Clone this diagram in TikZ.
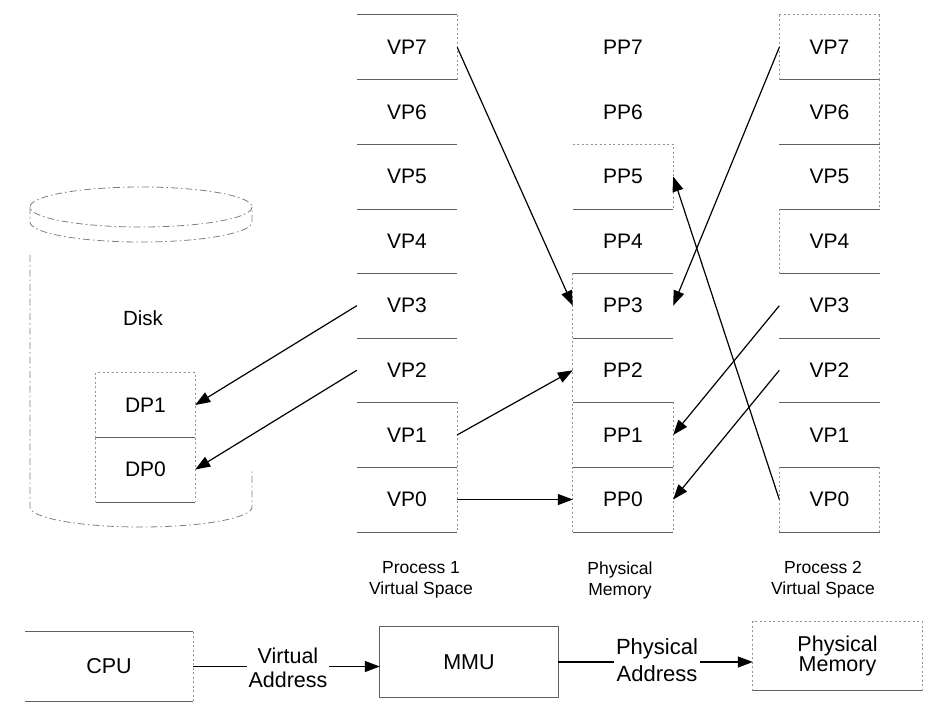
\documentclass[tikz,border=0pt]{standalone}
\usepackage{fontspec}
\setmainfont{Liberation Sans}
\usetikzlibrary{arrows.meta}
\begin{document}
\begin{tikzpicture}[x=1pt,y=-1pt,
  page/.style={minimum width=100pt,minimum height=64.6pt,inner sep=0pt,font=\fontsize{21}{24}\selectfont},
  sep/.style={draw=black!62,line width=0.8pt},
  edge/.style={draw=black!42,line width=0.8pt,dash pattern=on 2pt off 2.5pt},
  disk/.style={draw=black!50,line width=0.8pt,dash pattern=on 7pt off 3pt on 1.5pt off 3pt},
  link/.style={draw=black,line width=1.2pt,-{Triangle[length=15pt,width=11pt]}},
  captext/.style={align=center,font=\fontsize{17.5}{21}\selectfont},
  boxtext/.style={inner sep=0pt,align=center,font=\fontsize{21.5}{20}\selectfont},
  lbl/.style={fill=white,inner sep=2pt,align=center}]
\useasboundingbox (0,0) rectangle (941,726);

% ---------- Disk ----------
\draw[disk] (141,207) ellipse [x radius=111, y radius=20];
\draw[disk] (30,207) -- (30,222) arc[start angle=180,end angle=0,x radius=111,y radius=20] -- (252,207);
\draw[disk] (30,255) -- (30,507) arc[start angle=180,end angle=0,x radius=111,y radius=20] -- (252,470);
\node[font=\fontsize{20.5}{24}\selectfont] (disk) at (143,318) {Disk};
\node[page,minimum width=99pt] (dp1) at (145.5,405) {DP1};
\node[page,minimum width=99pt] (dp0) at (145.5,469.5) {DP0};
\draw[edge] (dp1.south west) |- (dp1.north east) -- (dp0.south east);
\draw[edge] (dp1.south west) -- (dp0.south west);
\draw[sep] (dp1.south west) -- (dp1.south east);
\draw[sep] (dp0.south west) -- (dp0.south east);

% ---------- columns ----------
\foreach \i in {0,...,7} {
  \node[page] (a\i) at (407,{15+(7.5-\i)*64.6}) {VP\i};
  \node[page] (m\i) at (623,{15+(7.5-\i)*64.6}) {PP\i};
  \node[page] (b\i) at (829.5,{15+(7.5-\i)*64.6}) {VP\i};
}
% Process 1
\draw[sep] (a7.north west) -- (a7.north east);
\foreach \i in {0,...,7} { \draw[sep] (a\i.south west) -- (a\i.south east); }
\draw[edge] (a7.north east) -- (a7.south east);
\draw[edge] (a1.north east) -- (a0.south east);
% Physical memory
\draw[edge] (m5.north west) -- (m5.north east) -- (m5.south east);
\foreach \i in {0,...,5} { \draw[sep] (m\i.south west) -- (m\i.south east); }
\draw[edge] (m3.north west) -- (m0.south west);
\draw[edge] (m1.north east) -- (m0.south east);
% Process 2
\draw[edge] (b7.north west) -- (b7.north east);
\foreach \i in {0,...,7} { \draw[sep] (b\i.south west) -- (b\i.south east); }
\draw[edge] (b7.north east) -- (b7.south east);
\draw[edge] (b7.north west) -- (b7.south west);
\draw[edge] (b6.north east) -- (b5.south east);
\draw[edge] (b4.north west) -- (b4.south west);
\draw[edge] (b0.north west) -- (b0.south west);
\draw[edge] (b0.north east) -- (b0.south east);

% captions
\node[captext] (c1) at (421,580) {Process 1\\Virtual Space};
\node[captext] (c2) at (620,580) {Physical\\Memory};
\node[captext] (c3) at (823,580) {Process 2\\Virtual Space};

% ---------- mappings ----------
\draw[link] (a7.east) -- (m3.west);
\draw[link] (a1.east) -- (m2.west);
\draw[link] (a0.east) -- (m0.west);
\draw[link] (a3.west) -- (dp1.east);
\draw[link] (a2.west) -- (dp0.east);
\draw[link] (b7.west) -- (m3.east);
\draw[link] (b3.west) -- (m1.east);
\draw[link] (b2.west) -- (m0.east);
\draw[link] (b0.west) -- (m5.east);

% ---------- bottom flow ----------
\node[boxtext,minimum width=168pt,minimum height=69pt] (cpu) at (109,666.5) {CPU};
\draw[sep] (cpu.north west) -- (cpu.north east);
\draw[sep] (cpu.south west) -- (cpu.south east);
\draw[edge] (cpu.north east) -- (cpu.south east);
\node[boxtext,minimum width=178pt,minimum height=70pt] (mmu) at (469,662) {MMU};
\draw[sep] (mmu.north west) rectangle (mmu.south east);
\node[boxtext,minimum width=169pt,minimum height=69pt] (pmem) at (837.5,656) {Physical\\Memory};
\draw[edge] (pmem.south west) |- (pmem.north east) -- (pmem.south east);
\draw[sep] (pmem.south west) -- (pmem.south east);

\draw[link] (cpu.east) -- (cpu.east -| mmu.west);
\node[lbl,font=\fontsize{21.5}{24.5}\selectfont] (va) at (288,668) {Virtual\\Address};
\draw[link] (mmu.east) -- (mmu.east -| pmem.west);
\node[lbl,font=\fontsize{22}{27}\selectfont] (pa) at (657,660) {Physical\\Address};
\end{tikzpicture}
\end{document}
